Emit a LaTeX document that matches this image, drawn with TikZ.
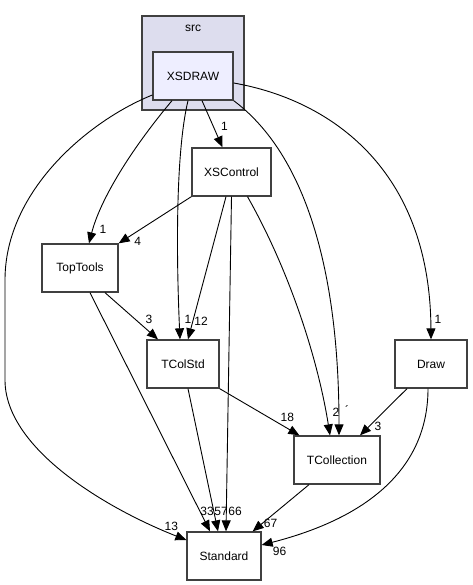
\documentclass[tikz,border=0pt]{standalone}
\usepackage{fontspec}
\setmainfont{Liberation Sans}
\usepackage{xcolor}
\usepackage{tikz}
\usetikzlibrary{arrows.meta}
\definecolor{clusterfill}{HTML}{DDDDEE}
\definecolor{mainfill}{HTML}{EEEEFF}
\definecolor{boxline}{HTML}{404040}
\tikzset{dirbox/.style={draw=boxline,line width=1.3pt,fill=white,minimum width=#1,
    minimum height=48pt,inner sep=0pt,font=\fontsize{12}{14}\selectfont},
    dep/.style={draw,line width=0.9pt,-{Triangle[length=11pt,width=9pt]}},
    lbl/.style={inner sep=0pt,font=\fontsize{12}{14}\selectfont},
    x=1pt,y=-1pt}

\begin{document}
\begin{tikzpicture}
            \useasboundingbox (0,0) rectangle (472,585);
            \node[dirbox=102pt,minimum height=94pt,fill=clusterfill] (src) at (193,63) {};
            \node[lbl] (srclabel) at (193,28) {src};
            \node[dirbox=80pt,fill=mainfill] (XSDRAW) at (193,76) {XSDRAW};
            \node[dirbox=79pt] (XSControl) at (231.5,172) {XSControl};
            \node[dirbox=76pt] (TopTools) at (80,268) {TopTools};
            \node[dirbox=72pt] (TColStd) at (183,364) {TColStd};
            \node[dirbox=72pt] (Draw) at (431,364) {Draw};
            \node[dirbox=86pt] (TCollection) at (337,460) {TCollection};
            \node[dirbox=74pt] (Standard) at (224,556) {Standard};

            \draw[dep] ([xshift=9pt]XSDRAW.south) -- ([xshift=-9pt]XSControl.north)
                node[lbl,at end,shift={(2,-21)}] {1};
            \draw[dep] ([xshift=-21pt]XSDRAW.south) .. controls +(-42,50) and +(11,-43) ..
                ([xshift=9pt]TopTools.north) node[lbl,at end,shift={(14,-14)}] {1};
            \draw[dep] ([xshift=-5pt]XSDRAW.south) .. controls +(-12,50) and +(-4,-90) ..
                ([xshift=-3pt]TColStd.north) node[lbl,at end,shift={(8,-20)}] {1};
            \draw[dep] ([yshift=-19pt]XSDRAW.west) .. controls (90,120) and (5,190) .. (5,280)
                -- (5,380) .. controls (5,450) and (110,510) ..
                ([yshift=16pt]Standard.west) node[lbl,at end,shift={(-15,-14)}] {13};
            \draw[dep] (XSDRAW.south east) .. controls +(67,50) and +(0,-176) ..
                ([xshift=2pt]TCollection.north) node[lbl,at end,shift={(8,-25)}] {´};
            \draw[dep] ([yshift=-7pt]XSDRAW.east) .. controls +(97,17) and +(-1,-170) ..
                (Draw.north) node[lbl,at end,shift={(7,-20)}] {1};

            \draw[dep] (XSControl.south west) -- (TopTools.north east)
                node[lbl,at end,shift={(19,-2)}] {4};
            \draw[dep] ([xshift=-5.5pt]XSControl.south) -- ([xshift=5pt]TColStd.north)
                node[lbl,at end,shift={(13,-18)}] {12};
            \draw[dep] (XSControl.south) -- ([xshift=2pt]Standard.north)
                node[lbl,at end,shift={(9,-20)}] {66};
            \draw[dep] ([xshift=16pt]XSControl.south) .. controls +(42,74) and +(-12,-76) ..
                ([xshift=-7pt]TCollection.north) node[lbl,at end,shift={(6,-23)}] {2};

            \draw[dep] ([xshift=25pt]TopTools.south) -- ([xshift=-25pt]TColStd.north)
                node[lbl,at end,shift={(-9,-20)}] {3};
            \draw[dep] ([xshift=10pt]TopTools.south) -- ([xshift=-14pt]Standard.north)
                node[lbl,at end,shift={(-3,-20)}] {33};

            \draw[dep] ([xshift=5pt]TColStd.south) -- ([xshift=-6pt]Standard.north)
                node[lbl,at end,shift={(3,-20)}] {57};
            \draw[dep] (TColStd.south east) -- ([xshift=6pt]TCollection.north west)
                node[lbl,at end,shift={(-12,-18)}] {18};

            \draw[dep] ([xshift=-24pt]Draw.south) -- ([xshift=23pt]TCollection.north)
                node[lbl,at end,shift={(18,-9)}] {3};
            \draw[dep] ([xshift=-3pt]Draw.south) .. controls +(0,72) and +(117,-30) ..
                ([yshift=11pt]Standard.east) node[lbl,at end,shift={(18,6)}] {96};

            \draw[dep] ([xshift=-28pt]TCollection.south) -- ([xshift=-9pt]Standard.north east)
                node[lbl,at end,shift={(18,-8)}] {67};
        \end{tikzpicture}
\end{document}
